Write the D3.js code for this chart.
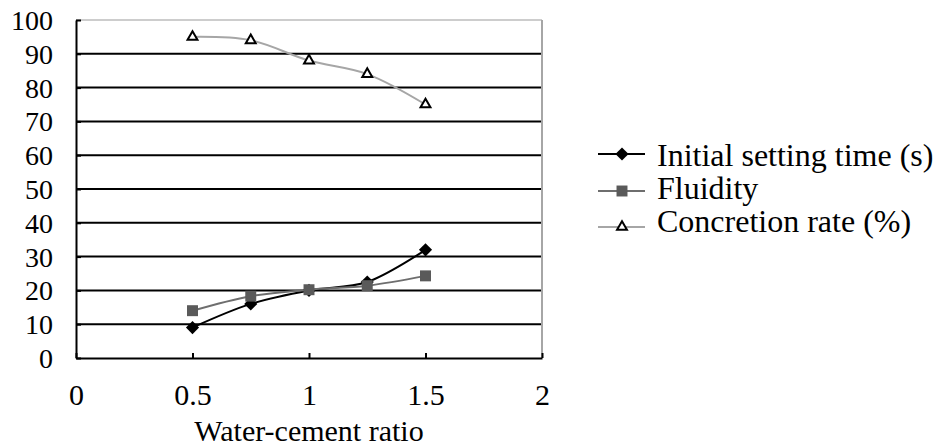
<!DOCTYPE html>
<html>
<head>
<meta charset="utf-8">
<script src="https://cdn.jsdelivr.net/npm/d3@7"></script>
<style>
  body { margin: 0; background: #fff; }
  svg text { font-family: "Liberation Serif", "Tinos", "DejaVu Serif", serif; fill: #000; }
</style>
</head>
<body>
<div id="chart"></div>
<script>
// chart data
var ratios = [0.5, 0.75, 1, 1.25, 1.5];
var settingTime = [9, 16, 20, 22.5, 32];
var fluidity = [14, 18.3, 20.2, 21.4, 24.3];
var concretion = [95, 94, 88, 84, 75];
var xTicks = [0, 0.5, 1, 1.5, 2];
var yTicks = [0, 10, 20, 30, 40, 50, 60, 70, 80, 90, 100];
var seriesNames = ['Initial setting time (s)', 'Fluidity', 'Concretion rate (%)'];

var width = 944, height = 448;
var plot = { left: 76, right: 542, top: 20, bottom: 358 };

var svg = d3.select('#chart').append('svg')
  .attr('width', width)
  .attr('height', height);

var x = d3.scaleLinear().domain([0, 2]).range([plot.left, plot.right]);
var y = d3.scaleLinear().domain([0, 100]).range([plot.bottom, plot.top]);

// gridlines
svg.append('g').selectAll('line')
  .data(yTicks.filter(function(d) { return d > 0 && d < 100; }))
  .enter().append('line')
  .attr('x1', plot.left).attr('x2', plot.right)
  .attr('y1', function(d) { return y(d); })
  .attr('y2', function(d) { return y(d); })
  .attr('stroke', '#000')
  .attr('stroke-width', 2);

// frame: grey top and right, black axes
svg.append('line')
  .attr('x1', plot.left).attr('x2', plot.right)
  .attr('y1', y(100)).attr('y2', y(100))
  .attr('stroke', '#bdbdbd').attr('stroke-width', 1.5);
svg.append('line')
  .attr('x1', plot.right).attr('x2', plot.right)
  .attr('y1', y(100)).attr('y2', y(0))
  .attr('stroke', '#a6a6a6').attr('stroke-width', 2);

var xAxis = svg.append('g')
  .attr('transform', 'translate(0,' + plot.bottom + ')')
  .call(d3.axisBottom(x).tickValues(xTicks).tickSizeInner(-5).tickSizeOuter(0).tickFormat(d3.format('')));
xAxis.attr('font-family', null).attr('font-size', null);
xAxis.select('.domain').attr('stroke', '#000').attr('stroke-width', 2);
xAxis.selectAll('.tick line').attr('stroke', '#000').attr('stroke-width', 2);
xAxis.selectAll('.tick text')
  .attr('y', 47).attr('dy', 0)
  .style('font-size', '30px');

var yAxis = svg.append('g')
  .attr('transform', 'translate(' + plot.left + ',0)')
  .call(d3.axisLeft(y).tickValues(yTicks).tickSizeInner(-5).tickSizeOuter(0));
yAxis.attr('font-family', null).attr('font-size', null);
yAxis.select('.domain').attr('stroke', '#000').attr('stroke-width', 2);
yAxis.selectAll('.tick line').attr('stroke', '#000').attr('stroke-width', 2);
yAxis.selectAll('.tick text')
  .attr('x', -23).attr('dy', '0.34em')
  .style('font-size', '28px');

svg.append('text')
  .attr('x', x(1)).attr('y', 441)
  .attr('text-anchor', 'middle')
  .style('font-size', '30px')
  .text('Water-cement ratio');

// series
var series = [
  { name: seriesNames[0], values: settingTime, line: '#000', marker: 'diamond', fill: '#000', stroke: '#000' },
  { name: seriesNames[1], values: fluidity, line: '#6e6e6e', marker: 'square', fill: '#5a5a5a', stroke: '#5a5a5a' },
  { name: seriesNames[2], values: concretion, line: '#a6a6a6', marker: 'triangle', fill: '#fff', stroke: '#000' }
];

var symbols = {
  diamond: d3.symbol().type(d3.symbolDiamond2).size(110),
  square: d3.symbol().type(d3.symbolSquare).size(120),
  triangle: d3.symbol().type(d3.symbolTriangle2).size(70)
};

var lineGen = d3.line()
  .x(function(d) { return x(d[0]); })
  .y(function(d) { return y(d[1]); })
  .curve(d3.curveCatmullRom.alpha(0.5));

series.forEach(function(s) {
  var pts = ratios.map(function(r, i) { return [r, s.values[i]]; });
  svg.append('path')
    .datum(pts)
    .attr('d', lineGen)
    .attr('fill', 'none')
    .attr('stroke', s.line)
    .attr('stroke-width', 2);
  svg.append('g').selectAll('path')
    .data(pts)
    .enter().append('path')
    .attr('d', symbols[s.marker])
    .attr('transform', function(d) { return 'translate(' + x(d[0]) + ',' + y(d[1]) + ')'; })
    .attr('fill', s.fill)
    .attr('stroke', s.stroke)
    .attr('stroke-width', s.marker === 'triangle' ? 2 : 0);
});

// legend
var legendRows = [154, 191, 227];
var legendBase = [166, 199, 232];
var legend = svg.append('g');
series.forEach(function(s, i) {
  legend.append('line')
    .attr('x1', 598).attr('x2', 645)
    .attr('y1', legendRows[i]).attr('y2', legendRows[i])
    .attr('stroke', s.line).attr('stroke-width', 2);
  legend.append('path')
    .attr('d', symbols[s.marker])
    .attr('transform', 'translate(622,' + legendRows[i] + ')')
    .attr('fill', s.fill)
    .attr('stroke', s.stroke)
    .attr('stroke-width', s.marker === 'triangle' ? 2 : 0);
  legend.append('text')
    .attr('x', 657).attr('y', legendBase[i])
    .style('font-size', '32px')
    .text(s.name);
});
</script>
</body>
</html>
